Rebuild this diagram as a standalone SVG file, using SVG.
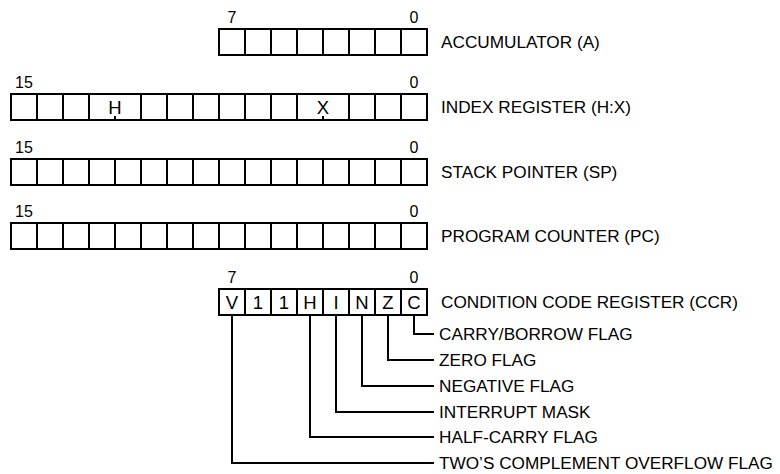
<svg xmlns="http://www.w3.org/2000/svg" width="780" height="474" viewBox="0 0 780 474">
<style>
  .box { fill: none; stroke: #000; stroke-width: 2; }
  .div { stroke: #000; stroke-width: 2; }
  .conn { fill: none; stroke: #000; stroke-width: 2; }
  .lbl { font-family: "Liberation Sans", Arial, sans-serif; font-size: 17.2px; fill: #000; }
  .bit { font-family: "Liberation Sans", Arial, sans-serif; font-size: 16px; fill: #000; text-anchor: middle; }
  .cell { font-family: "Liberation Sans", Arial, sans-serif; font-size: 18.5px; fill: #000; text-anchor: middle; }
</style>
<rect width="780" height="474" fill="#fff"/>

<g id="accumulator">
  <text class="bit" x="232" y="23">7</text>
  <text class="bit" x="414" y="23">0</text>
  <rect class="box" x="219" y="29" width="208" height="26"/>
  <path class="div" d="M245 29V55M271 29V55M297 29V55M323 29V55M349 29V55M375 29V55M401 29V55"/>
  <text class="lbl" x="441" y="48">ACCUMULATOR (A)</text>
</g>

<g id="index-register">
  <text class="bit" x="24" y="88">15</text>
  <text class="bit" x="414" y="88">0</text>
  <rect class="box" x="11" y="94" width="416" height="26"/>
  <path class="div" d="M37 94V120M63 94V120M89 94V120M141 94V120M167 94V120M193 94V120M219 94V120M245 94V120M271 94V120M297 94V120M349 94V120M375 94V120M401 94V120"/>
  <path class="div" d="M115 116V120M323 116V120"/>
  <text class="cell" x="115" y="113.5">H</text>
  <text class="cell" x="323" y="113.5">X</text>
  <text class="lbl" x="441" y="113">INDEX REGISTER (H:X)</text>
</g>

<g id="stack-pointer">
  <text class="bit" x="24" y="153">15</text>
  <text class="bit" x="414" y="153">0</text>
  <rect class="box" x="11" y="159" width="416" height="26"/>
  <path class="div" d="M37 159V185M63 159V185M89 159V185M115 159V185M141 159V185M167 159V185M193 159V185M219 159V185M245 159V185M271 159V185M297 159V185M323 159V185M349 159V185M375 159V185M401 159V185"/>
  <text class="lbl" x="441" y="178">STACK POINTER (SP)</text>
</g>

<g id="program-counter">
  <text class="bit" x="24" y="217">15</text>
  <text class="bit" x="414" y="217">0</text>
  <rect class="box" x="11" y="223" width="416" height="26"/>
  <path class="div" d="M37 223V249M63 223V249M89 223V249M115 223V249M141 223V249M167 223V249M193 223V249M219 223V249M245 223V249M271 223V249M297 223V249M323 223V249M349 223V249M375 223V249M401 223V249"/>
  <text class="lbl" x="441" y="242">PROGRAM COUNTER (PC)</text>
</g>

<g id="ccr">
  <text class="bit" x="232" y="283">7</text>
  <text class="bit" x="414" y="283">0</text>
  <rect class="box" x="219" y="289" width="208" height="26"/>
  <path class="div" d="M245 289V315M271 289V315M297 289V315M323 289V315M349 289V315M375 289V315M401 289V315"/>
  <text class="cell" x="232" y="308.5">V</text>
  <text class="cell" x="258" y="308.5">1</text>
  <text class="cell" x="284" y="308.5">1</text>
  <text class="cell" x="310" y="308.5">H</text>
  <text class="cell" x="336" y="308.5">I</text>
  <text class="cell" x="362" y="308.5">N</text>
  <text class="cell" x="388" y="308.5">Z</text>
  <text class="cell" x="414" y="308.5">C</text>
  <text class="lbl" x="441" y="308">CONDITION CODE REGISTER (CCR)</text>
</g>

<g id="connectors">
  <path class="conn" d="M414 315V334H434"/>
  <path class="conn" d="M388 315V360H434"/>
  <path class="conn" d="M362 315V386H434"/>
  <path class="conn" d="M336 315V412H434"/>
  <path class="conn" d="M310 315V437H434"/>
  <path class="conn" d="M232 315V463H434"/>
</g>

<g id="flag-carry"><text class="lbl" x="439" y="340">CARRY/BORROW FLAG</text></g>
<g id="flag-zero"><text class="lbl" x="439" y="366">ZERO FLAG</text></g>
<g id="flag-negative"><text class="lbl" x="439" y="392">NEGATIVE FLAG</text></g>
<g id="flag-interrupt"><text class="lbl" x="439" y="418">INTERRUPT MASK</text></g>
<g id="flag-halfcarry"><text class="lbl" x="439" y="443">HALF-CARRY FLAG</text></g>
<g id="flag-overflow"><text class="lbl" x="439" y="469">TWO’S COMPLEMENT OVERFLOW FLAG</text></g>
</svg>
